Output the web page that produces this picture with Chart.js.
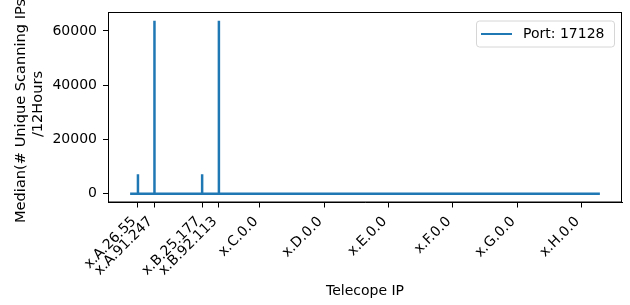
<!DOCTYPE html>
<html>
<head>
<meta charset="utf-8">
<script src="https://cdn.jsdelivr.net/npm/chart.js@4.4.1/dist/chart.umd.min.js"></script>
<style>
  html, body { margin: 0; padding: 0; background: #fff; }
  #wrap { width: 630px; height: 305px; }
</style>
</head>
<body>
<div id="wrap"><canvas id="myChart"></canvas></div>
<script>
// telescope IPs (in order) and the median unique scanners per 12h seen on each
var ipList = ['x.A.0.0', 'x.A.26.54', 'x.A.26.55', 'x.A.26.56',
  'x.A.91.246', 'x.A.91.247', 'x.A.91.248',
  'x.B.25.176', 'x.B.25.177', 'x.B.25.178',
  'x.B.92.112', 'x.B.92.113', 'x.B.92.114', 'x.H.67.255'];
var scanCounts = [0, 0, 7200, 0, 0, 63800, 0, 0, 7200, 0, 0, 63800, 0, 0];

var tickLabels = ['x.A.26.55', 'x.A.91.247', 'x.B.25.177', 'x.B.92.113',
  'x.C.0.0', 'x.D.0.0', 'x.E.0.0', 'x.F.0.0', 'x.G.0.0', 'x.H.0.0'];
var yTicks = [0, 20000, 40000, 60000];
var seriesLabel = 'Port: 17128';
var yTitle = ['Median(# Unique Scanning IPs', '/12Hours'];

// "x.B.25.177" -> position in units of /8 blocks
function ipToX(ip) {
  var p = ip.split('.');
  return (p[1].charCodeAt(0) - 65) + parseInt(p[2]) / 256 + parseInt(p[3]) / 65536;
}

var points = ipList.map(function (ip, i) { return { x: ipToX(ip), y: scanCounts[i] }; });
var xTicks = tickLabels.map(ipToX);

var xs = points.map(function (p) { return p.x; });
var xMin = Math.min.apply(null, xs), xMax = Math.max.apply(null, xs);
var yMin = Math.min.apply(null, scanCounts), yMax = Math.max.apply(null, scanCounts);
var xPad = (xMax - xMin) * 0.05, yPad = (yMax - yMin) * 0.05;

var FONT = 'DejaVu Sans';
Chart.defaults.font.family = FONT;
Chart.defaults.font.size = 14;
Chart.defaults.color = '#000';

// matplotlib-ish frame, legend box inside the axes, two-line y label
var framePlugin = {
  id: 'frame',
  afterDraw: function (chart) {
    var ctx = chart.ctx, a = chart.chartArea;
    ctx.save();
    ctx.strokeStyle = '#000';
    ctx.lineWidth = 1;
    ctx.strokeRect(a.left + 0.5, a.top + 0.5, a.right - a.left - 1, a.bottom - a.top - 1);

    var w = 138, h = 26;
    var x0 = a.right - 8 - w, y0 = a.top + 8.5;
    ctx.beginPath();
    ctx.roundRect(x0 + 0.5, y0 + 0.5, w, h, 3);
    ctx.fillStyle = 'rgba(255,255,255,0.8)';
    ctx.fill();
    ctx.strokeStyle = '#d6d6d6';
    ctx.stroke();

    var ds = chart.data.datasets[0];
    var ly = y0 + h / 2 + 0.5;
    ctx.beginPath();
    ctx.moveTo(x0 + 5, ly);
    ctx.lineTo(x0 + 36, ly);
    ctx.strokeStyle = ds.borderColor;
    ctx.lineWidth = 2;
    ctx.stroke();

    ctx.fillStyle = '#000';
    ctx.font = '14px "' + FONT + '"';
    ctx.textBaseline = 'middle';
    ctx.fillText(ds.label, x0 + 47, ly);

    // y axis title
    ctx.font = '14.6px "' + FONT + '"';
    ctx.save();
    ctx.translate(21.5, 223);
    ctx.rotate(-Math.PI / 2);
    ctx.textAlign = 'left';
    ctx.fillText(yTitle[0], 0, 0);
    ctx.restore();
    ctx.save();
    ctx.translate(38.5, 104);
    ctx.rotate(-Math.PI / 2);
    ctx.textAlign = 'center';
    ctx.fillText(yTitle[1], 0, 0);
    ctx.restore();
    ctx.restore();
  }
};

const ctx = document.getElementById('myChart');

new Chart(ctx, {
  type: 'line',
  data: {
    datasets: [{
      label: seriesLabel,
      data: points,
      borderColor: '#1f77b4',
      borderWidth: 2.5,
      borderCapStyle: 'square',
      pointRadius: 0,
      tension: 0
    }]
  },
  options: {
    responsive: true,
    maintainAspectRatio: false,
    animation: false,
    layout: { padding: { top: 12, right: 8, bottom: 0, left: 0 } },
    plugins: {
      legend: { display: false },
      tooltip: { enabled: false }
    },
    scales: {
      x: {
        type: 'linear',
        min: xMin - xPad,
        max: xMax + xPad,
        afterBuildTicks: function (scale) {
          scale.ticks = xTicks.map(function (v) { return { value: v }; });
        },
        afterFit: function (scale) { scale.height = 102.5; },
        ticks: {
          autoSkip: false,
          minRotation: 45,
          maxRotation: 45,
          padding: 6,
          labelOffset: -4,
          callback: function (value, index) { return tickLabels[index]; }
        },
        grid: {
          drawOnChartArea: false,
          drawTicks: true,
          tickLength: 5,
          tickColor: '#000'
        },
        border: { color: '#000' },
        title: {
          display: true,
          text: 'Telecope IP',
          padding: { top: 4, bottom: 5 }
        }
      },
      y: {
        min: yMin - yPad,
        max: yMax + yPad,
        afterBuildTicks: function (scale) {
          scale.ticks = yTicks.map(function (v) { return { value: v }; });
        },
        afterFit: function (scale) { scale.width = 108; },
        ticks: {
          padding: 6,
          font: { lineHeight: 0.85 },
          callback: function (value) { return String(value); }
        },
        grid: {
          drawOnChartArea: false,
          drawTicks: true,
          tickLength: 5,
          tickColor: '#000'
        },
        border: { color: '#000' }
      }
    }
  },
  plugins: [framePlugin]
});
</script>
</body>
</html>
